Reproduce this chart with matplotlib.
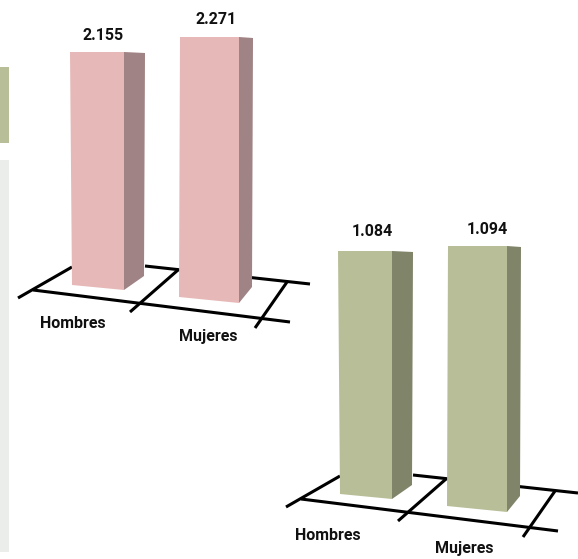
import matplotlib
matplotlib.use('Agg')
import matplotlib.pyplot as plt
from matplotlib.patches import Polygon, Rectangle

categories = ['Hombres', 'Mujeres']
values_pink = [2155, 2271]
values_green = [1084, 1094]
value_labels_pink = ['2.155', '2.271']
value_labels_green = ['1.084', '1.094']

PINK = '#e6b9b8'
PINK_SIDE = '#a08384'
GREEN = '#b8bf98'
GREEN_SIDE = '#808469'
FONT = 'Roboto'


def draw_bar(ax, x0, x1, x_low, base_l, base_r, height, depth, rise, color, side):
    # fake 3d column: height comes from the value, the rest is perspective
    top = base_r - height
    ax.add_patch(Polygon([(x1, top), (x1 + depth, top + 1), (x1 + depth - 1, base_r - rise), (x1, base_r)],
                         closed=True, fc=side, ec='none', zorder=3))
    ax.add_patch(Polygon([(x0, top), (x1, top), (x1, base_r), (x_low, base_l)],
                         closed=True, fc=color, ec='none', zorder=4))
    return top


def draw_chart(ax, values, value_labels, dx, dy, scales, color, side, val_pos, cat_pos):
    # floor grid
    floor = [((18, 298), (72, 267)), ((145, 266), (310, 284)), ((33, 290), (290, 322)),
             ((130, 312), (178, 270)), ((255, 328), (287, 282))]
    for a, b in floor:
        ax.plot([a[0] + dx, b[0] + dx], [a[1] + dy, b[1] + dy], color='black', lw=2.2,
                solid_capstyle='butt', zorder=2)

    xs = [(70, 124, 72, 285, 290, 21, 14), (180, 239, 179, 297, 303, 14, 16)]
    for i, v in enumerate(values):
        x0, x1, x_low, bl, br, depth, rise = xs[i]
        draw_bar(ax, x0 + dx, x1 + dx, x_low + dx, bl + dy, br + dy, v * scales[i], depth, rise, color, side)
        ax.text(val_pos[i][0], val_pos[i][1], value_labels[i], ha='center', va='center',
                fontsize=11.5, fontweight='bold', family=FONT, color='#111111', zorder=5)
        ax.text(cat_pos[i][0], cat_pos[i][1], categories[i], ha='center', va='center',
                fontsize=11.5, fontweight='bold', family=FONT, color='#111111', zorder=5)


fig = plt.figure(figsize=(5.78, 5.59), dpi=100)
ax = fig.add_axes([0, 0, 1, 1])
ax.set_xlim(0, 578)
ax.set_ylim(559, 0)
ax.axis('off')

# cut off panels on the left edge
ax.add_patch(Rectangle((0, 67), 9, 76, fc=GREEN, ec='none'))
ax.add_patch(Rectangle((0, 160), 9, 392, fc='#ebedeb', ec='none'))

draw_chart(ax, values_pink, value_labels_pink, 0, 0, [238 / 2155, 266 / 2271], PINK, PINK_SIDE,
           [(103, 35), (216, 19.5)], [(73, 323.5), (208, 337)])
draw_chart(ax, values_green, value_labels_green, 268, 209, [248 / 1084, 266 / 1094], GREEN, GREEN_SIDE,
           [(372, 232), (487, 230)], [(328, 535.5), (464, 548)])

fig.savefig('out.png', dpi=100)
